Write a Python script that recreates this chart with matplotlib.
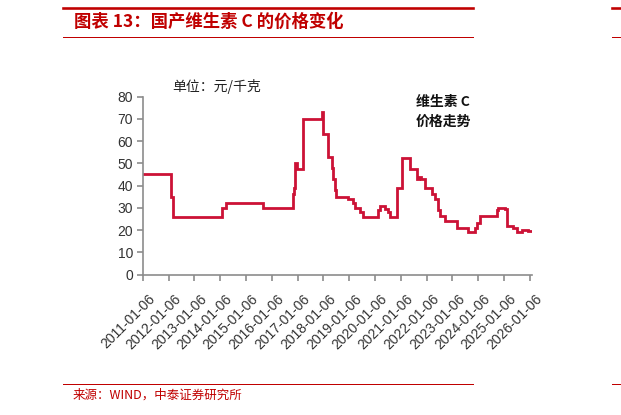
import matplotlib
matplotlib.use("Agg")
import matplotlib.pyplot as plt
from matplotlib.lines import Line2D
from matplotlib.transforms import ScaledTranslation

plt.rcParams['font.family'] = ['Liberation Sans', 'Noto Sans CJK SC', 'DejaVu Sans']

# ---------- data (decimal years) ----------
years = [2011.00, 2012.11, 2012.17, 2014.07, 2014.23, 2015.67, 2016.83, 2016.86,
         2016.89, 2016.96, 2017.20, 2017.22, 2017.96, 2018.00, 2018.19, 2018.32,
         2018.37, 2018.45, 2018.49, 2018.96, 2019.13, 2019.22, 2019.42, 2019.54,
         2020.12, 2020.19, 2020.38, 2020.51, 2020.58, 2020.84, 2021.03, 2021.35,
         2021.64, 2021.70, 2021.78, 2021.93, 2022.20, 2022.32, 2022.44, 2022.52,
         2022.71, 2023.16, 2023.61, 2023.87, 2023.94, 2024.06, 2024.71, 2024.77,
         2025.03, 2025.11, 2025.34, 2025.48, 2025.68, 2025.93, 2026.07]
price = [45, 35, 26, 30, 32, 30, 36, 39,
         50, 47.5, 60, 70, 73, 63, 53, 48,
         43, 38, 35, 34, 32, 30, 28, 26,
         29, 31, 29.5, 28, 26, 39, 52.5, 47.5,
         43, 44, 43, 39, 36, 34, 29, 26.5,
         24, 21, 19, 21, 23, 26.5, 29, 30,
         29.5, 22, 21, 19, 20, 19.5, 19.5]
tick_years = list(range(2011, 2027))
tick_labels = [f"{y}-01-06" for y in tick_years]

RED = "#C00000"
LINE = "#CC1236"
GREY = "#8C8C8C"

fig = plt.figure(figsize=(6.21, 4.15), dpi=100)
W, H = 621, 415

# header / footer rules
for y, lw in [(8, 2.6), (37, 1.0), (384, 1.0)]:
    fig.add_artist(Line2D([63 / W, 473 / W], [1 - y / H] * 2, color=RED, lw=lw * 0.72))
    fig.add_artist(Line2D([612 / W, 1.0], [1 - y / H] * 2, color=RED, lw=lw * 0.72))

fig.text(74 / W, 1 - 22 / H, "图表 13：国产维生素 C 的价格变化", color=RED,
         fontsize=12.5, fontweight="bold", style="italic", va="center",
         family=['Noto Sans CJK SC', 'DejaVu Sans'])
fig.text(73 / W, 1 - 395 / H, "来源：WIND，中泰证券研究所", color=RED,
         fontsize=9, va="center", family=['Noto Sans CJK SC', 'DejaVu Sans'])

ax = fig.add_axes([142.7 / W, 1 - 274.5 / H, (532 - 142.7) / W, (274.5 - 96.7) / H])
ax.step(years, price, where="post", color=LINE, lw=2.0, solid_joinstyle="miter")
ax.set_xlim(2011, 2026.08)
ax.set_ylim(0, 80)
ax.set_yticks(range(0, 81, 10))
ax.set_xticks(tick_years)
for s in ["top", "right"]:
    ax.spines[s].set_visible(False)
for s in ["left", "bottom"]:
    ax.spines[s].set_color(GREY)
    ax.spines[s].set_linewidth(1.2)
ax.tick_params(direction="out", length=4, width=1.2, color=GREY,
               labelsize=10, labelcolor="#333333")
ax.tick_params(axis="x", pad=0)
ax.tick_params(axis="y", pad=3)
ax.set_xticklabels(tick_labels, rotation=45, ha="right", va="center",
                   rotation_mode="anchor")
# Excel-style placement: label end sits a little right of and below its tick
shift = ScaledTranslation(10 / 100, -17 / 100, fig.dpi_scale_trans)
for lab in ax.get_xticklabels():
    lab.set_transform(lab.get_transform() + shift)

fig.text(217 / W, 1 - 86 / H, "单位：元/千克", fontsize=10, ha="center", va="center",
         color="#222222", family=['Noto Sans CJK SC', 'DejaVu Sans'])
fig.text(416 / W, 1 - 102 / H, "维生素 C", fontsize=10, va="center", fontweight="bold",
         color="#111111", family=['Noto Sans CJK SC', 'DejaVu Sans'])
fig.text(416 / W, 1 - 122 / H, "价格走势", fontsize=10, va="center", fontweight="bold",
         color="#111111", family=['Noto Sans CJK SC', 'DejaVu Sans'])

fig.savefig("out.png", dpi=100)
